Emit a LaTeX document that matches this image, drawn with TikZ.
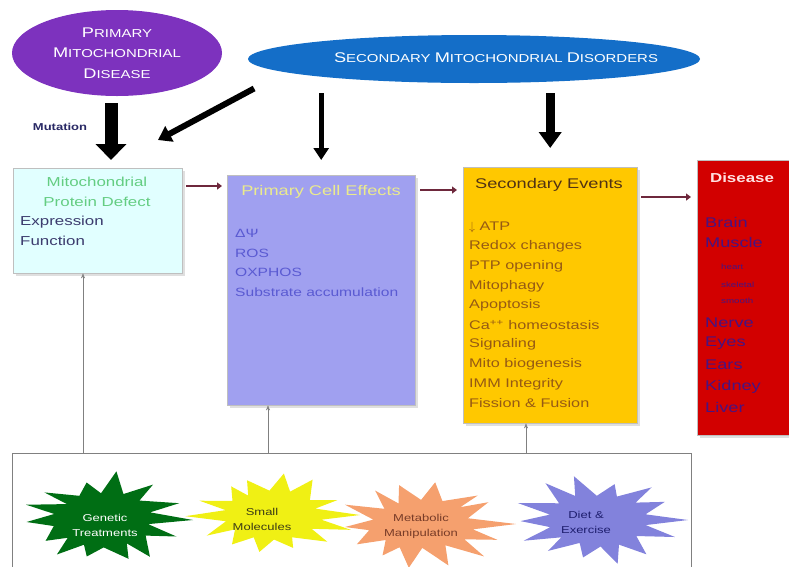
\documentclass[tikz,border=0pt]{standalone}
\usepackage{fontspec}
\setmainfont[FakeStretch=1.3]{Liberation Sans}
\usetikzlibrary{arrows.meta, shapes.geometric, shadows}
\definecolor{mitopurple}{RGB}{125,50,190}
\definecolor{mitoblue}{RGB}{20,110,200}
\definecolor{defectcyan}{RGB}{225,255,255}
\definecolor{celllav}{RGB}{160,160,240}
\definecolor{eventgold}{RGB}{255,200,0}
\definecolor{diseasered}{RGB}{210,0,0}
\definecolor{flowred}{RGB}{110,40,60}
\definecolor{genegreen}{RGB}{0,110,20}
\definecolor{smallyellow}{RGB}{240,240,20}
\definecolor{metaorange}{RGB}{245,160,110}
\definecolor{dietlav}{RGB}{130,130,220}
\definecolor{organpurple}{RGB}{70,20,130}
\newcommand{\initcap}[2]{{\fontsize{14}{20}\selectfont #1}#2}
\tikzset{every picture/.style = {x=1pt, y=-1pt}}
\tikzset{box/.style = {draw=gray!50, anchor=north west, inner sep=0, drop shadow={opacity=0.25}}}
\tikzset{disorder/.style = {ellipse, text=white, align=center, font=\fontsize{11.5}{20.5}\selectfont}}
\tikzset{bigarrow/.style = {line width=13pt, -{Triangle[width=30pt, length=16pt]}}}
\tikzset{midarrow/.style = {line width=6pt, -{Triangle[width=17pt, length=13pt]}}}
\tikzset{flow/.style = {draw=flowred, line width=2.5pt, -{Triangle[width=7pt, length=5pt]}}}
\tikzset{support/.style = {draw=gray, thin, -{Stealth[length=5pt, width=4pt]}}}
\tikzset{item/.style = {anchor=west, inner sep=0}}
\tikzset{bursttext/.style = {align=center, inner sep=0, font=\fontsize{10}{15}\selectfont}}

\begin{document}
\begin{tikzpicture}
  \useasboundingbox (0, 0) rectangle (789, 566);

  % the two kinds of disorder
  \node[disorder, fill=mitopurple, minimum width=210pt, minimum height=86pt] (primary) at (117, 53)
    {\initcap{P}{RIMARY}\\\initcap{M}{ITOCHONDRIAL}\\\initcap{D}{ISEASE}};
  \node[disorder, fill=mitoblue, minimum width=452pt, minimum height=48pt] (secondary) at (474, 59) {};
  \node[disorder] (secondarytext) at (496, 58)
    {\initcap{S}{ECONDARY} \initcap{M}{ITOCHONDRIAL} \initcap{D}{ISORDERS}};
  \node[font=\bfseries\fontsize{10}{12}\selectfont, text={rgb,255:red,40;green,40;blue,100}] (mutation) at (60, 127) {Mutation};

  % boxes
  \node[box, fill=defectcyan, minimum width=169pt, minimum height=105pt] (defect) at (13, 168) {};
  \node[box, fill=celllav, minimum width=188pt, minimum height=230pt] (cell) at (227, 175) {};
  \node[box, fill=eventgold, minimum width=174pt, minimum height=256pt] (events) at (463, 167) {};
  \node[box, fill=diseasered, minimum width=92pt, minimum height=275pt] (disease) at (697, 160) {};
  \node[draw=gray, anchor=north west, minimum width=679pt, minimum height=130pt] (treat) at (12, 453) {};

  % box texts
  \node[align=center, text={rgb,255:red,100;green,205;blue,130}, font=\fontsize{13}{20}\selectfont] (defecttitle) at (97, 192)
    {Mitochondrial\\Protein Defect};
  \node[item, text={rgb,255:red,60;green,60;blue,110}, font=\fontsize{13}{13}\selectfont] (expr) at (20, 222) {Expression};
  \node[item, text={rgb,255:red,60;green,60;blue,110}, font=\fontsize{13}{13}\selectfont] (func) at (20, 241) {Function};

  \node[text={rgb,255:red,235;green,235;blue,140}, font=\fontsize{14}{16}\selectfont] (celltitle) at (321, 192) {Primary Cell Effects};
  \foreach \txt [count=\i] in {ΔΨ, ROS, OXPHOS, Substrate accumulation}
    \node[item, text={rgb,255:red,90;green,90;blue,210}, font=\fontsize{12}{12}\selectfont] (cell\i) at (235, 214 + 19.5*\i) {\txt};

  \node[text={rgb,255:red,80;green,50;blue,20}, font=\fontsize{14}{16}\selectfont] (eventtitle) at (549, 185) {Secondary Events};
  \foreach \txt [count=\i] in {$\downarrow$ ATP, Redox changes, PTP opening, Mitophagy, Apoptosis,
      Ca\textsuperscript{++} homeostasis, Signaling, Mito biogenesis, IMM Integrity, Fission \& Fusion}
    \node[item, text={rgb,255:red,150;green,90;blue,20}, font=\fontsize{12.5}{12.5}\selectfont] (ev\i) at (469, 207.4 + 19.6*\i) {\txt};

  \node[text={rgb,255:red,255;green,225;blue,225}, font=\bfseries\fontsize{13}{15}\selectfont] (diseasetitle) at (742, 178) {Disease};
  \foreach \txt/\y in {Brain/222, Muscle/242, Nerve/323, Eyes/343, Ears/365, Kidney/387, Liver/407}
    \node[item, text=organpurple, font=\fontsize{14}{14}\selectfont] (organ\y) at (705, \y) {\txt};
  \foreach \txt/\y in {heart/267, skeletal/285, smooth/301}
    \node[item, text=organpurple, font=\fontsize{7.5}{8}\selectfont] (muscle\y) at (721, \y) {\txt};

  % treatments
  \foreach \cx/\cy/\rx/\ry/\col/\seed in {103/520/90/50/genegreen/3, 272/515/88/44/smallyellow/7,
      422/524/94/46/metaorange/11, 598/520/90/48/dietlav/5} {
    \pgfmathsetseed{\seed}
    \fill[\col, shift={(\cx, \cy)}, x=\rx pt, y=\ry pt] (0:1)
      \foreach \k in {1,...,27} { -- ({\k*360/28 + 4*rnd}:{isodd(\k) ? 0.5 + 0.08*rnd : 0.72 + 0.3*rnd}) } -- cycle;
  }
  \node[bursttext, text=white] (gene) at (105, 525) {Genetic\\Treatments};
  \node[bursttext, text={rgb,255:red,60;green,60;blue,20}] (small) at (262, 519) {Small\\Molecules};
  \node[bursttext, text={rgb,255:red,120;green,60;blue,40}] (meta) at (421, 526) {Metabolic\\Manipulation};
  \node[bursttext, text={rgb,255:red,30;green,30;blue,110}] (diet) at (586, 522) {Diet \&\\Exercise};

  % arrows from the disorders
  \coordinate (mutcol) at (111, 0);
  \coordinate (diagtail) at (255, 88);
  \coordinate (diagtip) at (158, 140);
  \draw[bigarrow, shorten <=7pt, shorten >=8pt] (primary.south -| mutcol) -- (defect.north -| mutcol);
  \draw[midarrow, shorten <=1pt] (diagtail) -- (diagtip);
  \draw[line width=5pt, -{Triangle[width=15pt, length=12pt]}, shorten <=10pt, shorten >=15pt] (secondary.south -| cell.north) -- (cell.north);
  \draw[line width=9pt, -{Triangle[width=22pt, length=16pt]}, shorten <=10pt, shorten >=19pt] (secondary.south -| events.north) -- (events.north);

  % flow between boxes
  \coordinate (row1) at (0, 186);
  \coordinate (row2) at (0, 190);
  \coordinate (row3) at (0, 197);
  \draw[flow, shorten <=4pt, shorten >=5pt] (defect.east |- row1) -- (cell.west |- row1);
  \draw[flow, shorten <=5pt, shorten >=6pt] (cell.east |- row2) -- (events.west |- row2);
  \draw[flow, shorten <=4pt, shorten >=6pt] (events.east |- row3) -- (disease.west |- row3);

  % treatments act on the boxes
  \coordinate (col1) at (83, 0);
  \coordinate (col2) at (268, 0);
  \coordinate (col3) at (526, 0);
  \draw[support] (treat.north -| col1) -- (defect.south -| col1);
  \draw[support] (treat.north -| col2) -- (cell.south -| col2);
  \draw[support] (treat.north -| col3) -- (events.south -| col3);
\end{tikzpicture}
\end{document}
